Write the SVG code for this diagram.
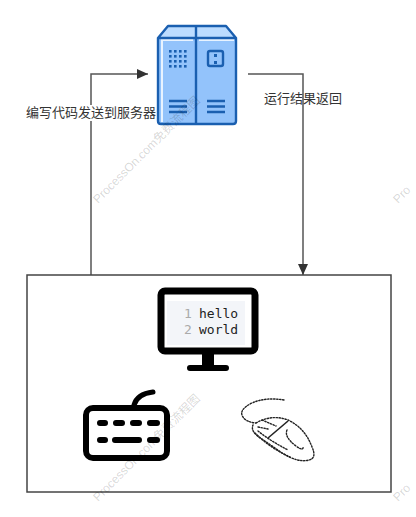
<svg xmlns="http://www.w3.org/2000/svg" width="416" height="517" viewBox="0 0 416 517">
<style>
.wm{font:12px "Liberation Sans","Noto Sans CJK SC",sans-serif;fill:#000;fill-opacity:.17}
.lb{font:13px "Liberation Sans","Noto Sans CJK SC",sans-serif;fill:#333}
.cn{fill:none;stroke:#555;stroke-width:1.5}
.sv{fill:none;stroke:#1a5fb0;stroke-width:2.4;stroke-linejoin:round;stroke-linecap:butt}
.kp{stroke:#000;stroke-width:6;stroke-linecap:round;fill:none}
.ms{fill:none;stroke:#222;stroke-width:1.4;stroke-dasharray:1.4 1.6;stroke-linecap:round}
.dt{fill:#1a5fb0}
.code{font:13px "DejaVu Sans Mono",monospace}
</style>
<defs>
<marker id="ah" markerUnits="userSpaceOnUse" markerWidth="12" markerHeight="12" refX="11" refY="6" orient="auto"><path d="M0 1 L11 6 L0 11 Z" fill="#333"/></marker>
</defs>
<rect width="416" height="517" fill="#fff"/>
<g id="connectors">
<path class="cn" d="M91 275 V74 H148" marker-end="url(#ah)"/>
<path class="cn" d="M248 74 H303 V275" marker-end="url(#ah)"/>
</g>
<g id="label-send"><rect x="26" y="105" width="130" height="16" fill="#fff"/><text class="lb" x="26" y="117">编写代码发送到服务器</text></g>
<g id="label-return"><text class="lb" x="264" y="103">运行结果返回</text></g>
<g id="server">
<path d="M158 38 L168 26 H226 L236 38 Z" fill="#bcdcff"/>
<path d="M159 38 H235 V121 Q235 123 233 123 H161 Q159 123 159 121 Z" fill="#93c3fb"/>
<path d="M161 39 H193 V41 H163 V122 H161 Z M199 39 H234 V41 H199 Z" fill="#e8f3ff"/>
<path class="sv" d="M158 38 L168 26 H226 L236 38 V121 Q236 124 233 124 H161 Q158 124 158 121 Z M158 38 H236 M196 26 V124"/>
<g class="dt"><rect x="169" y="50" width="2.6" height="2.6"/><rect x="174" y="50" width="2.6" height="2.6"/><rect x="179" y="50" width="2.6" height="2.6"/><rect x="184" y="50" width="2.6" height="2.6"/>
<rect x="169" y="55" width="2.6" height="2.6"/><rect x="174" y="55" width="2.6" height="2.6"/><rect x="179" y="55" width="2.6" height="2.6"/><rect x="184" y="55" width="2.6" height="2.6"/>
<rect x="169" y="60" width="2.6" height="2.6"/><rect x="174" y="60" width="2.6" height="2.6"/><rect x="179" y="60" width="2.6" height="2.6"/><rect x="184" y="60" width="2.6" height="2.6"/>
<rect x="169" y="65" width="2.6" height="2.6"/><rect x="174" y="65" width="2.6" height="2.6"/><rect x="179" y="65" width="2.6" height="2.6"/><rect x="184" y="65" width="2.6" height="2.6"/>
<rect x="214" y="54" width="3" height="3"/><rect x="214" y="61" width="3" height="3"/></g>
<rect class="sv" x="208" y="51" width="15" height="15" rx="2"/>
<path class="sv" d="M169 101 H187 M169 106.5 H187 M169 112 H187 M207 101 H225 M207 106.5 H225 M207 112 H225"/>
</g>
<g id="computer">
<rect x="27" y="275" width="364" height="217" fill="none" stroke="#444" stroke-width="1.5"/>
</g>
<g id="monitor">
<rect x="161" y="291" width="94" height="60" rx="4" fill="#fff" stroke="#000" stroke-width="7"/>
<rect x="167" y="301" width="78" height="44" fill="#f3f5f9"/>
<path d="M202 354 H214 V365 H226 Q229 365 229 368 Q229 371 226 371 H190 Q187 371 187 368 Q187 365 190 365 H202 Z" fill="#000"/>
<text class="code" x="184" y="318" fill="#aaa">1</text>
<text class="code" x="199" y="318" fill="#222">hello</text>
<text class="code" x="184" y="334" fill="#aaa">2</text>
<text class="code" x="199" y="334" fill="#222">world</text>
</g>
<g id="keyboard">
<rect x="86" y="408" width="81" height="50" rx="7" fill="#fff" stroke="#000" stroke-width="6"/>
<path d="M134 405 Q137 394 153 392" fill="none" stroke="#000" stroke-width="5" stroke-linecap="round"/>
<path class="kp" d="M100 423 H105 M116 423 H122 M133 423 H139 M150 423 H157 M100 440 H105 M115 440 H139 M150 440 H157"/>
</g>
<g id="mouse">
<path class="ms" d="M284 400 Q265 397 252 403 Q238 410 243 417 Q246 422 256 423"/>
<path class="ms" d="M256 423 Q272 414 288 420 Q305 428 312 447 Q317 458 309 460 Q298 463 282 453 L262 439 Q250 432 253 425"/>
<path class="ms" d="M255 433 Q270 448 290 457 M258 431 Q272 442 288 450"/>
<path class="ms" d="M287 430 Q284 437 296 446 Q304 452 303 446"/>
<path class="ms" d="M262 420 L276 426 M258 427 L268 429"/>
<path d="M268 438 L288 421" fill="none" stroke="#222" stroke-width="1.6"/>
</g>
<g id="watermarks">
<text class="wm" transform="translate(98 204) rotate(-45)">ProcessOn.com免费流程图</text>
<text class="wm" transform="translate(398 204) rotate(-45)">Pro</text>
<text class="wm" transform="translate(98 502) rotate(-45)">ProcessOn.com免费流程图</text>
<text class="wm" transform="translate(398 502) rotate(-45)">Pro</text>
</g>
</svg>
